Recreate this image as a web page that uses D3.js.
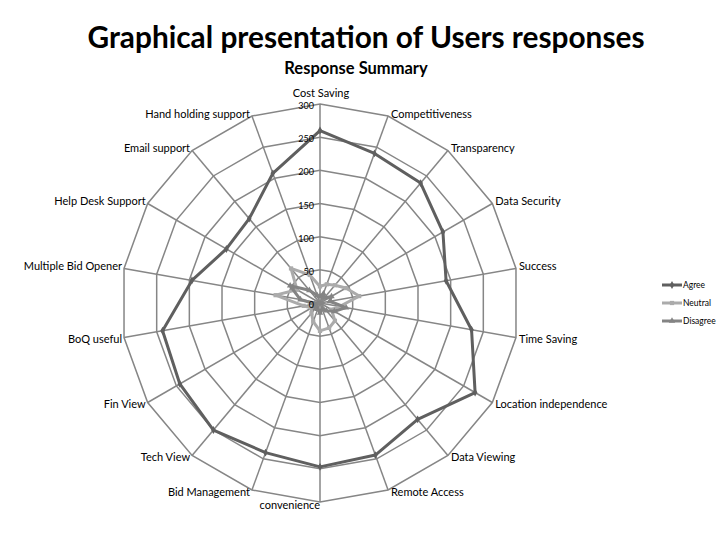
<!DOCTYPE html>
<html>
<head>
<meta charset="utf-8">
<script src="https://cdn.jsdelivr.net/npm/d3@7"></script>
<style>
    body { margin: 0; background: #fff; }
    text { font-family: Lato, "Open Sans", sans-serif; fill: #000; }
    .title { font-size: 29.8px; font-weight: bold; }
    .subtitle { font-size: 16.5px; font-weight: bold; }
    .cat { font-size: 11px; }
    .tick { font-size: 9px; }
    .legend { font-size: 8.5px; }
</style>
</head>
<body>
<script>
// categories (clockwise from top)
const categories = [
    "Cost Saving", "Competitiveness", "Transparency", "Data Security", "Success",
    "Time Saving", "Location independence", "Data Viewing", "Remote Access",
    "convenience", "Bid Management", "Tech View", "Fin View", "BoQ useful",
    "Multiple Bid Opener", "Help Desk Support", "Email support", "Hand holding support"
];

const agree = [260, 240, 236, 214, 193, 232, 270, 229, 244, 247, 240, 250, 244, 241, 196, 163, 166, 208];
const neutral = [25, 30, 35, 45, 60, 30, 20, 35, 40, 42, 30, 20, 15, 25, 68, 40, 68, 45];
const disagree = [10, 15, 10, 20, 15, 40, 25, 15, 10, 15, 10, 10, 10, 8, 30, 52, 25, 12];

const seriesNames = ["Agree", "Neutral", "Disagree"];
const seriesColors = ["#5f5f5f", "#ababab", "#848484"];
const tickValues = [0, 50, 100, 150, 200, 250, 300];

const width = 720;
const height = 540;
const cx = 320;
const cy = 303;
const radius = 199;

const svg = d3.select("body")
    .append("svg")
    .attr("width", width)
    .attr("height", height);

svg.append("text")
    .attr("class", "title")
    .attr("x", 366)
    .attr("y", 48)
    .attr("text-anchor", "middle")
    .text("Graphical presentation of Users responses");

svg.append("text")
    .attr("class", "subtitle")
    .attr("x", 356)
    .attr("y", 74)
    .attr("text-anchor", "middle")
    .text("Response Summary");

const r = d3.scaleLinear().domain([0, 300]).range([0, radius]);
const angle = d3.scaleLinear().domain([0, categories.length]).range([0, 2 * Math.PI]);

function point(i, v) {
    const a = angle(i);
    return [cx + r(v) * Math.sin(a), cy - r(v) * Math.cos(a)];
}

const g = svg.append("g");

// grid rings
tickValues.slice(1).forEach(function (t) {
    g.append("path")
        .attr("d", d3.line()(categories.map(function (c, i) { return point(i, t); })) + "Z")
        .attr("fill", "none")
        .attr("stroke", "#868686")
        .attr("stroke-width", 1.5);
});

// spokes
categories.forEach(function (c, i) {
    const p = point(i, 300);
    g.append("line")
        .attr("x1", cx).attr("y1", cy)
        .attr("x2", p[0]).attr("y2", p[1])
        .attr("stroke", "#868686")
        .attr("stroke-width", 1.5);
});

// series
const allSeries = [agree, neutral, disagree];
const lineGen = d3.line();

function marker(sel, k, x, y) {
    const sym = [d3.symbolDiamond, d3.symbolSquare, d3.symbolTriangle][k];
    sel.append("path")
        .attr("d", d3.symbol().type(sym).size(18)())
        .attr("transform", "translate(" + x + "," + y + ")")
        .attr("fill", seriesColors[k]);
}

[1, 2, 0].forEach(function (k) {
    const pts = allSeries[k].map(function (v, i) { return point(i, v); });
    g.append("path")
        .attr("d", lineGen(pts) + "Z")
        .attr("fill", "none")
        .attr("stroke", seriesColors[k])
        .attr("stroke-width", 3)
        .attr("stroke-linejoin", "round");
    pts.forEach(function (p) { marker(g, k, p[0], p[1]); });
});

// tick labels
tickValues.forEach(function (t) {
    svg.append("text")
        .attr("class", "tick")
        .attr("x", 314)
        .attr("y", cy - r(t) + 2)
        .attr("dy", "0.35em")
        .attr("text-anchor", "end")
        .text(t);
});

// category labels
categories.forEach(function (c, i) {
    const p = point(i, 300);
    const s = Math.sin(angle(i));
    const co = Math.cos(angle(i));
    const t = svg.append("text")
        .attr("class", "cat")
        .attr("dy", "0.35em")
        .text(c);
    if (Math.abs(s) < 0.01 && co > 0) {
        t.attr("x", p[0] + 1).attr("y", p[1] - 11).attr("text-anchor", "middle");
    } else if (Math.abs(s) < 0.01) {
        t.attr("x", p[0]).attr("y", p[1] + 3).attr("text-anchor", "end");
    } else if (s > 0) {
        t.attr("x", p[0] + 3).attr("y", p[1] + (co > 0 ? -2 : 2)).attr("text-anchor", "start");
    } else {
        t.attr("x", p[0] - 2).attr("y", p[1] + (co > 0 ? -2 : 2)).attr("text-anchor", "end");
    }
});

// legend
seriesNames.forEach(function (name, k) {
    const ly = 285 + k * 18;
    svg.append("line")
        .attr("x1", 662).attr("x2", 682)
        .attr("y1", ly).attr("y2", ly)
        .attr("stroke", seriesColors[k])
        .attr("stroke-width", 3);
    marker(svg, k, 672, ly);
    svg.append("text")
        .attr("class", "legend")
        .attr("x", 683)
        .attr("y", ly)
        .attr("dy", "0.35em")
        .text(name);
});
</script>
</body>
</html>
